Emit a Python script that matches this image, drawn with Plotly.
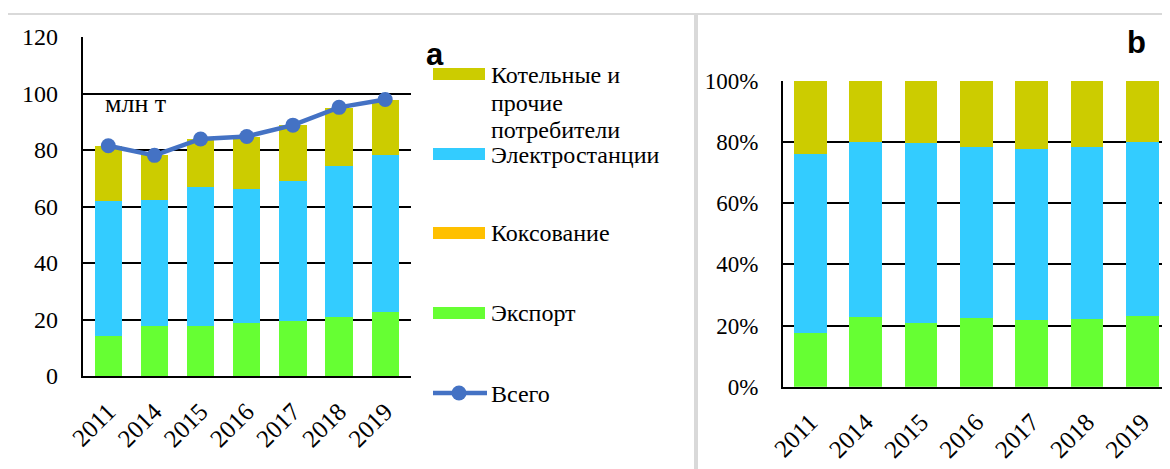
import plotly.graph_objects as go

years = ["2011", "2014", "2015", "2016", "2017", "2018", "2019"]
export = [14.2, 17.7, 17.6, 18.9, 19.5, 21.0, 22.7]
coking = [0, 0, 0, 0, 0, 0, 0]
power = [47.9, 44.7, 49.3, 47.4, 49.5, 53.5, 55.6]
boilers = [19.4, 15.7, 16.9, 18.4, 19.8, 20.5, 19.5]
total = [81.5, 78.1, 83.9, 84.8, 88.8, 95.1, 97.9]

series = [
    ("Экспорт", export, "#66FF33"),
    ("Коксование", coking, "#FFC000"),
    ("Электростанции", power, "#33CCFF"),
    ("Котельные и прочие потребители", boilers, "#CCCC00"),
]

# the page body has an 8px margin; size the figure so it fills the window exactly
OFF = 8
W, H = 1170 - OFF, 469 - OFF
SERIF = "Liberation Serif, Times New Roman, Times, serif"


def px(x):
    return (x - OFF) / W


def py(y):
    return 1 - (y - OFF) / H


fig = go.Figure()

stack_sums = [sum(v[i] for _, v, _ in series) for i in range(len(years))]

for name, vals, color in series:
    fig.add_trace(go.Bar(x=years, y=vals, name=name, marker=dict(color=color, line=dict(width=0)),
                         xaxis="x", yaxis="y", showlegend=False))
for name, vals, color in series:
    share = [v / s * 100 for v, s in zip(vals, stack_sums)]
    fig.add_trace(go.Bar(x=years, y=share, name=name, marker=dict(color=color, line=dict(width=0)),
                         xaxis="x2", yaxis="y2", showlegend=False))

fig.add_trace(go.Scatter(x=years, y=total, name="Всего", mode="lines+markers",
                         line=dict(color="#4472C4", width=4.5),
                         marker=dict(size=15, color="#4472C4"),
                         xaxis="x", yaxis="y", showlegend=False))

tickfont = dict(family=SERIF, size=24, color="black")
xtickfont = dict(family=SERIF, size=25, color="black")

fig.update_layout(
    width=W, height=H,
    margin=dict(l=0, r=0, t=0, b=0),
    paper_bgcolor="white", plot_bgcolor="white",
    barmode="stack", bargap=0.41,
    font=dict(family=SERIF, size=24, color="black"),
    xaxis=dict(domain=[px(82.5), px(411)], anchor="y", tickangle=-45, tickfont=xtickfont,
               showline=True, linecolor="black", linewidth=2, showgrid=False, automargin=False,
               ticks="", ticklabelstandoff=9, fixedrange=True),
    yaxis=dict(domain=[py(376), py(37)], anchor="x", range=[0, 120], dtick=20, tickfont=tickfont,
               showline=True, linecolor="black", linewidth=1.5, showgrid=True, gridcolor="black",
               gridwidth=1.6, zeroline=False, ticks="", ticklabelstandoff=18, automargin=False),
    xaxis2=dict(domain=[px(782.7), 1.0], anchor="y2", tickangle=-45, tickfont=xtickfont,
                showline=True, linecolor="black", linewidth=2, showgrid=False, automargin=False,
                ticks="", ticklabelstandoff=9),
    yaxis2=dict(domain=[py(386.7), py(81)], anchor="x2", range=[0, 100], dtick=20, ticksuffix="%",
                tickfont=dict(family=SERIF, size=23, color="black"), automargin=False,
                showline=True, linecolor="black", linewidth=1.5, showgrid=True, gridcolor="black",
                gridwidth=1.6, zeroline=False, ticks="", ticklabelstandoff=18),
)

shapes = []
# panel frames
shapes.append(dict(type="rect", xref="paper", yref="paper", x0=px(7), x1=px(695), y0=py(14), y1=py(480),
                   line=dict(color="#D9D9D9", width=2)))
shapes.append(dict(type="rect", xref="paper", yref="paper", x0=px(697), x1=px(1190), y0=py(14), y1=py(480),
                   line=dict(color="#D9D9D9", width=2)))

# manual legend
legend_items = [
    (series[3][2], 74),
    (series[2][2], 154),
    (series[1][2], 233),
    (series[0][2], 313),
]
for color, yc in legend_items:
    shapes.append(dict(type="rect", xref="paper", yref="paper", x0=px(433), x1=px(485),
                       y0=py(yc + 6), y1=py(yc - 6), fillcolor=color, line=dict(width=0)))
shapes.append(dict(type="line", xref="paper", yref="paper", x0=px(433), x1=px(487), y0=py(393), y1=py(393),
                   line=dict(color="#4472C4", width=4.5)))
shapes.append(dict(type="circle", xref="paper", yref="paper", x0=px(451.5), x1=px(466.5), y0=py(400.5),
                   y1=py(385.5), fillcolor="#4472C4", line=dict(width=0)))
fig.update_layout(shapes=shapes)

ann = []
legend_text = [
    ("Котельные и", 75),
    ("прочие", 103),
    ("потребители", 130),
    ("Электростанции", 155),
    ("Коксование", 233),
    ("Экспорт", 313),
    ("Всего", 394),
]
for t, yc in legend_text:
    ann.append(dict(text=t, xref="paper", yref="paper", x=px(489), y=py(yc), xanchor="left", yanchor="middle",
                    showarrow=False, font=dict(family=SERIF, size=24, color="black")))
ann.append(dict(text="млн т", xref="paper", yref="paper", x=px(103), y=py(103), xanchor="left", yanchor="middle",
                showarrow=False, font=dict(family=SERIF, size=26, color="black")))
ann.append(dict(text="<b>a</b>", xref="paper", yref="paper", x=px(424), y=py(55), xanchor="left", yanchor="middle",
                showarrow=False, font=dict(family="Liberation Sans", size=31, color="black")))
ann.append(dict(text="<b>b</b>", xref="paper", yref="paper", x=px(1125), y=py(42), xanchor="left", yanchor="middle",
                showarrow=False, font=dict(family="Liberation Sans", size=31, color="black")))
fig.update_layout(annotations=ann)

fig.write_html("out.html")
